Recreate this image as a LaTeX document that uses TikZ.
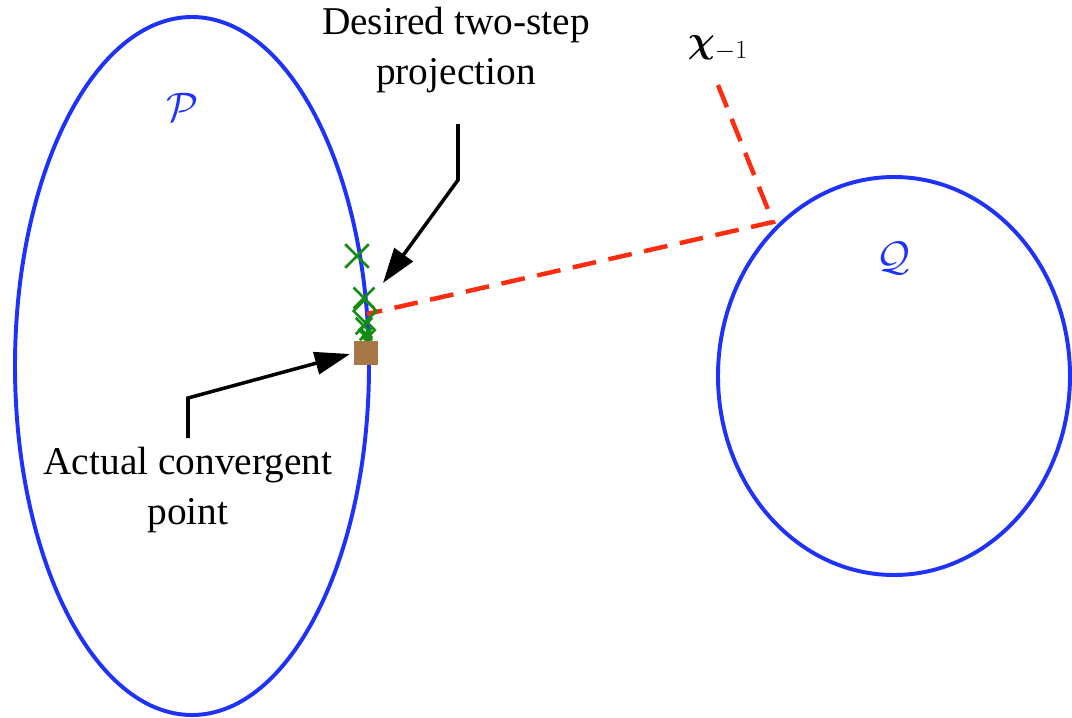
\documentclass[tikz,border=0pt]{standalone}
\usepackage{fontspec}
\setmainfont{Liberation Serif}
\usepackage{amsmath,bm}
\usetikzlibrary{arrows.meta,shapes.misc,shapes.geometric}
\definecolor{setblue}{RGB}{30,50,250}
\definecolor{projred}{RGB}{255,45,15}
\definecolor{mkgreen}{RGB}{20,140,20}
\definecolor{ptbrown}{RGB}{166,120,70}
\tikzset{
  setline/.style={draw=setblue,line width=2.8pt},
  projline/.style={draw=projred,line width=3.2pt,dash pattern=on 17pt off 9pt},
  xmark/.style={cross out,draw=mkgreen,line width=1.8pt,minimum size=#1,inner sep=0pt},
  dmark/.style={diamond,draw=mkgreen,line width=1.8pt,minimum size=#1,inner sep=0pt},
  callout/.style={draw=black,line width=2.5pt,-{Triangle[length=25pt,width=16pt]}},
  lbl/.style={font=\fontsize{28}{36}\selectfont,align=center,text=black},
  setlbl/.style={text=setblue,font=\fontsize{24}{28}\selectfont,scale=1.18},
}
\begin{document}
\begin{tikzpicture}[x=0.025cm,y=-0.025cm]
\useasboundingbox (0,0) rectangle (1072,717);
% sets
\draw[setline] (192,366) ellipse [x radius=177,y radius=349];
\draw[setline] (894,376) ellipse [x radius=176,y radius=199];
\node[setlbl] (Plbl) at (183,107) {$\mathcal{P}$};
\node[setlbl] (Qlbl) at (893,258) {$\mathcal{Q}$};
% start point label
\node[font=\fontsize{24}{28}\selectfont,scale=1.08] (chi) at (718,48) {$\bm{\chi}_{\scriptstyle -1}$};
\coordinate (c0) at (718,85);
\coordinate (c1) at (773,222);
\coordinate (c2) at (367,314);
\draw[projline] (c0) -- (c1) -- (c2);
% iterates
\node[xmark=15pt] (m1) at (357,256) {};
\node[xmark=13pt] (m2) at (364,298) {};
\node[dmark=17pt] (d1) at (365,311) {};
\node[xmark=10pt] (m3) at (364,326) {};
\node[dmark=12pt] (d2) at (367,330) {};
\node[xmark=7pt] (m4) at (366,334) {};
\node[dmark=7pt] (d3) at (367,337) {};
\node[draw=none,fill=ptbrown,minimum size=17pt,inner sep=0pt] (conv) at (366,353) {};
% callouts
\node[lbl] (desired) at (456,50) {Desired two-step\\projection};
\node[lbl] (actual) at (188,490) {Actual convergent\\point};
\coordinate (a0) at (458,124);
\coordinate (a1) at (458,180);
\coordinate (a2) at (383,283);
\draw[callout] (a0) -- (a1) -- (a2);
\coordinate (b0) at (188,438);
\coordinate (b1) at (188,398);
\coordinate (b2) at (350,354);
\draw[callout] (b0) -- (b1) -- (b2);
\end{tikzpicture}
\end{document}
